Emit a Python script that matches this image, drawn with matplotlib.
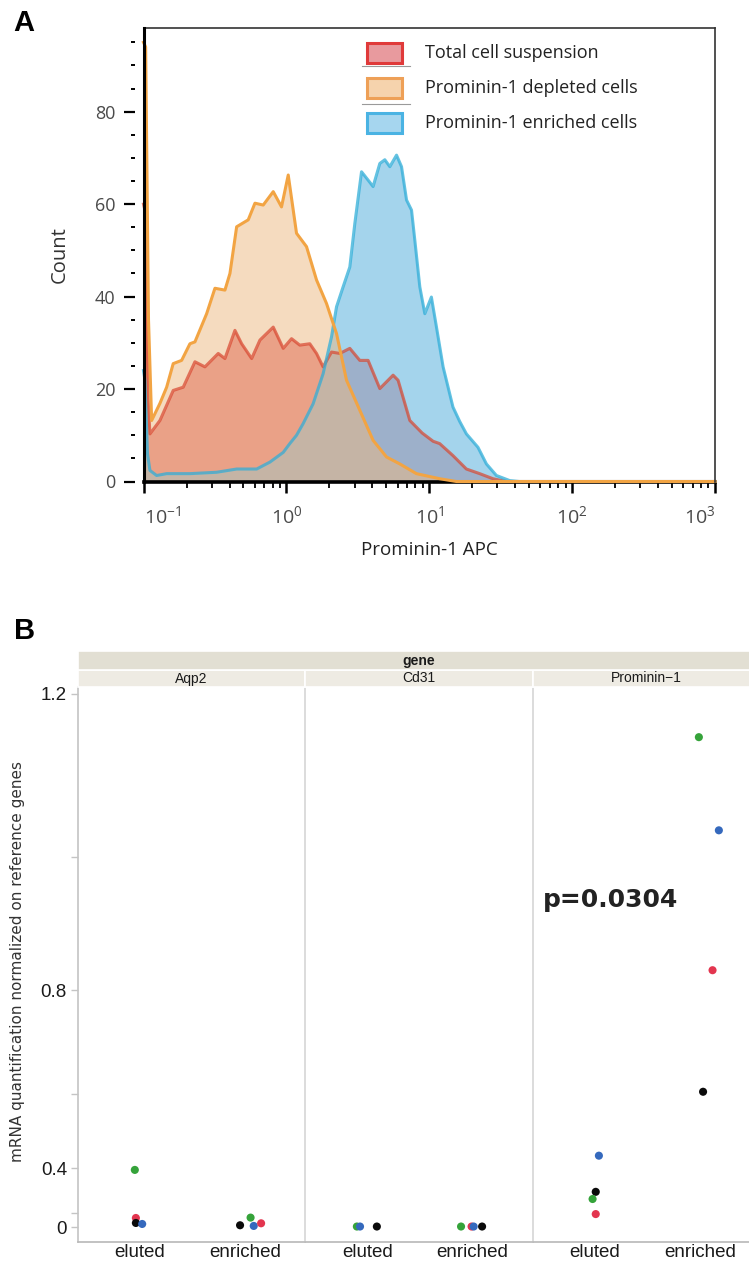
import numpy as np
import matplotlib
matplotlib.use("Agg")
import matplotlib.pyplot as plt
from matplotlib.patches import Rectangle
from matplotlib.lines import Line2D
from matplotlib.ticker import FixedLocator

plt.rcParams['font.family'] = ['Open Sans', 'DejaVu Sans']
plt.rcParams['mathtext.default'] = 'regular'

# ---------------- Panel A : histogram (log10 of Prominin-1 APC, count)
total_lx = [-1.0, -0.985, -0.968, -0.955, -0.885, -0.792, -0.722, -0.64, -0.57, -0.477,
            -0.43, -0.36, -0.313, -0.243, -0.185, -0.092, -0.022, 0.036, 0.094, 0.164,
            0.211, 0.257, 0.316, 0.374, 0.444, 0.514, 0.572, 0.654, 0.747, 0.782,
            0.864, 0.95, 1.027, 1.073, 1.166, 1.26, 1.353, 1.446, 1.54, 3.0]
total_ct = [60, 58, 18, 10.3, 13.2, 19.7, 20.4, 25.9, 24.8, 27.7,
            26.6, 32.7, 29.8, 26.6, 30.6, 33.4, 28.8, 30.9, 29.5, 29.8,
            27.7, 24.8, 28.0, 27.7, 28.8, 26.2, 26.2, 20.1, 23.0, 21.9,
            13.2, 10.5, 8.7, 8.2, 5.6, 2.7, 1.7, 0.6, 0, 0]

depl_lx = [-1.0, -0.985, -0.965, -0.943, -0.885, -0.838, -0.792, -0.733, -0.675, -0.64,
           -0.558, -0.5, -0.43, -0.395, -0.348, -0.267, -0.22, -0.162, -0.092, -0.034,
           0.013, 0.071, 0.141, 0.211, 0.281, 0.351, 0.421, 0.514, 0.607, 0.701,
           0.794, 0.91, 1.073, 1.19, 3.0]
depl_ct = [95, 94, 35, 13.2, 16.9, 20.4, 25.5, 26.2, 29.8, 30.2,
           36.3, 41.8, 41.4, 45.0, 55.1, 56.6, 60.2, 59.8, 62.7, 59.4,
           66.3, 53.7, 50.8, 43.6, 38.5, 32.0, 21.9, 15.4, 8.9, 5.3,
           3.8, 1.7, 0.6, 0, 0]

enr_lx = [-1.0, -0.99, -0.972, -0.955, -0.908, -0.838, -0.675, -0.488, -0.348, -0.208,
          -0.115, -0.022, 0.024, 0.071, 0.117, 0.187, 0.257, 0.316, 0.351, 0.397,
          0.444, 0.479, 0.526, 0.572, 0.607, 0.654, 0.689, 0.724, 0.771, 0.806,
          0.841, 0.876, 0.899, 0.934, 0.969, 1.015, 1.05, 1.097, 1.143, 1.166,
          1.213, 1.26, 1.341, 1.40, 1.47, 1.563, 1.63, 3.0]
enr_ct = [24, 22, 6, 2.4, 1.3, 1.7, 1.7, 2.0, 2.7, 2.7,
          4.2, 6.3, 8.2, 10.0, 12.5, 16.8, 23.3, 31.3, 37.8, 42.1,
          46.4, 55.8, 67.0, 65.2, 63.8, 68.8, 69.6, 68.1, 70.6, 68.1,
          60.9, 58.7, 52.2, 42.1, 36.3, 39.9, 33.5, 24.8, 19.0, 16.1,
          13.0, 10.3, 7.4, 3.8, 1.3, 0.2, 0, 0]

legend_labels = ["Total cell suspension", "Prominin-1 depleted cells", "Prominin-1 enriched cells"]

# ---------------- Panel B : mRNA dots
genes = ["Aqp2", "Cd31", "Prominin\u22121"]
groups = ["eluted", "enriched"]
dot_colors = {"green": "#35a33a", "red": "#e3354f", "blue": "#3569bd", "black": "#0a0a0a"}
# per gene -> per group -> list of (colour, value, jitter)
mrna = {
    "Aqp2": {"eluted": [("red", 0.16, -0.04), ("black", 0.11, -0.04), ("blue", 0.097, 0.02), ("green", 0.394, -0.05)],
             "enriched": [("black", 0.077, -0.05), ("blue", 0.064, 0.08), ("red", 0.106, 0.15), ("green", 0.163, 0.05)]},
    "Cd31": {"eluted": [("black", 0.05, 0.09), ("green", 0.05, -0.10), ("blue", 0.05, -0.07)],
             "enriched": [("green", 0.05, -0.11), ("red", 0.05, -0.01), ("blue", 0.05, 0.01), ("black", 0.05, 0.09)]},
    "Prominin\u22121": {"eluted": [("blue", 0.44, 0.04), ("black", 0.31, 0.01), ("green", 0.277, -0.02), ("red", 0.19, 0.01)],
                        "enriched": [("green", 1.15, -0.01), ("blue", 1.035, 0.18), ("red", 0.833, 0.12), ("black", 0.605, 0.03)]},
}
p_text = "p=0.0304"

W, H = 749, 1262
fig = plt.figure(figsize=(W / 100, H / 100), dpi=100)


def box(l, t, r, b):
    return [l / W, 1 - b / H, (r - l) / W, (b - t) / H]


# =============== Panel A
axA = fig.add_axes(box(143.5, 28, 715, 481.5))
axA.set_xscale('log')

# (x, counts, fill colour, fill alpha, line colour, line alpha)
series = [
    (total_lx, total_ct, "#da3a44", 0.6, "#d8452e", 0.7),
    (enr_lx, enr_ct, "#7ec2e4", 0.7, "#31aed8", 0.75),
    (depl_lx, depl_ct, "#edb981", 0.5, "#f2a443", 1.0),
]
for i, (lx, ct, fc, fa, lc, la) in enumerate(series):
    x = 10 ** np.array(lx)
    axA.fill_between(x, ct, 0, color=fc, alpha=fa, lw=0, zorder=1 + i * 0.1)
for i, (lx, ct, fc, fa, lc, la) in enumerate(series):
    x = 10 ** np.array(lx)
    axA.plot(x, ct, color=lc, alpha=la, lw=2.2, zorder=2 + i * 0.1, clip_on=False,
             solid_joinstyle='round')

axA.set_xlim(0.1, 1000)
axA.set_ylim(0, 98.1)

axA.spines['left'].set_position(('outward', 6))
axA.spines['left'].set_color('none')
axA.add_line(Line2D([0, 0], [0, 1], transform=axA.transAxes, color='black', lw=2.2,
                    clip_on=False, zorder=4))
axA.spines['bottom'].set_linewidth(2.6)
axA.spines['bottom'].set_zorder(1.5)
for s in ['top', 'right']:
    axA.spines[s].set_linewidth(1.2)
    axA.spines[s].set_color('#333333')

axA.set_yticks([0, 20, 40, 60, 80])
axA.set_yticklabels(['0', '20', '40', '60', '80'])
axA.yaxis.set_minor_locator(FixedLocator([v for v in range(5, 100, 5) if v % 20]))
axA.tick_params(axis='y', which='major', length=8, width=1.6, pad=6, labelsize=13,
                labelcolor='#4a4a4a', color='black')
axA.tick_params(axis='y', which='minor', length=3, width=1.4, color='black')

axA.set_xticks([0.1, 1, 10, 100, 1000])
axA.set_xticklabels(['$10^{-1}$', '$10^{0}$', '$10^{1}$', '$10^{2}$', '$10^{3}$'])
axA.tick_params(axis='x', which='major', length=8, width=1.8, pad=9, labelsize=14,
                labelcolor='#4a4a4a', color='black')
axA.tick_params(axis='x', which='minor', length=4, width=1.3, color='black')
xl = axA.get_xticklabels()
xl[0].set_ha('left')
xl[-1].set_ha('right')

axA.set_xlabel("Prominin-1 APC", fontsize=13.5, color='#222222', labelpad=10)
axA.set_ylabel("Count", fontsize=14.5, color='#333333', labelpad=18)

# legend drawn by hand (patches with separators)
leg_face = ["#e89a9e", "#f6d3ad", "#a6d6ef"]
leg_edge = ["#e03a3a", "#eea057", "#4ab3e3"]
leg_y = [53, 88, 123]
for lab, fcol, ecol, yc in zip(legend_labels, leg_face, leg_edge, leg_y):
    fig.add_artist(Rectangle((367 / W, 1 - (yc + 10) / H), 35 / W, 20 / H,
                             transform=fig.transFigure, facecolor=fcol, edgecolor=ecol, lw=2.2))
    fig.text(425 / W, 1 - yc / H, lab, fontsize=13, color='#222222', va='center', ha='left')
for ys in [65.5, 104]:
    fig.add_artist(Line2D([362 / W, 410 / W], [1 - ys / H, 1 - ys / H], transform=fig.transFigure,
                          color='#9a9a9a', lw=0.8))

fig.text(24 / W, 1 - 23 / H, "A", fontsize=21, fontweight='bold', va='center', ha='center',
         family=['Liberation Sans', 'DejaVu Sans'])
fig.text(25 / W, 1 - 631 / H, "B", fontsize=21, fontweight='bold', va='center', ha='center',
         family=['Liberation Sans', 'DejaVu Sans'])

# =============== Panel B
narrow = ['Liberation Sans', 'DejaVu Sans']


def fwd(y):
    y = np.asarray(y, dtype=float)
    return np.sign(y) * y ** 2


def inv(y):
    y = np.asarray(y, dtype=float)
    return np.sign(y) * np.sqrt(np.abs(y))


facet_w = 227.3
top_b, bot_b = 687, 1241.7
x0 = 78
for gi, gene in enumerate(genes):
    l = x0 + gi * facet_w
    ax = fig.add_axes(box(l, top_b, l + facet_w, bot_b))
    ax.set_yscale('function', functions=(fwd, inv))
    for k, grp in enumerate(groups):
        for col, val, jit in mrna[gene][grp]:
            ax.scatter(k + jit, val, s=34, color=dot_colors[col], edgecolors='none', zorder=3,
                       clip_on=False)
    ax.set_xlim(-0.59, 1.57)
    ax.set_ylim(-0.196, 1.2074)
    for s in ['top', 'right']:
        ax.spines[s].set_visible(False)
    ax.spines['left'].set_color('#d6d6d6' if gi else '#c4c4c4')
    ax.spines['left'].set_linewidth(1.2)
    ax.spines['bottom'].set_color('#b8b8b8')
    ax.spines['bottom'].set_linewidth(1.2)
    ax.set_xticks([0, 1])
    ax.set_xticklabels(groups, family=narrow, fontsize=13.5, color='#1a1a1a')
    ax.tick_params(axis='x', length=0, pad=2)
    if gi == 0:
        ax.set_yticks([0, 0.4, 0.8, 1.2])
        ax.set_yticklabels(['0', '0.4', '0.8', '1.2'], family=narrow, fontsize=13.5,
                           color='#1a1a1a')
        ax.yaxis.set_minor_locator(FixedLocator([0.2, 0.6, 1.0]))
        ax.tick_params(axis='y', which='both', length=5, width=1, color='#c4c4c4', pad=3)
    else:
        ax.set_yticks([])
        ax.yaxis.set_minor_locator(FixedLocator([]))
    # facet strip
    fig.add_artist(Rectangle((l / W, 1 - 687 / H), facet_w / W, 17 / H, transform=fig.transFigure,
                             facecolor='#eeebe3', edgecolor='white', lw=1.2))
    fig.text((l + facet_w / 2) / W, 1 - 678.5 / H, gene, family=narrow, fontsize=10,
             color='#1a1a1a', ha='center', va='center')

fig.add_artist(Rectangle((x0 / W, 1 - 670 / H), 3 * facet_w / W, 19 / H, transform=fig.transFigure,
                         facecolor='#e2dfd3', edgecolor='white', lw=1.2))
fig.text((x0 + 1.5 * facet_w) / W, 1 - 660.5 / H, "gene", family=narrow, fontsize=10,
         fontweight='bold', color='#1a1a1a', ha='center', va='center')

fig.text(18 / W, 1 - 962 / H, "mRNA quantification normalized on reference genes", rotation=90,
         fontsize=11, color='#333333', ha='center', va='center', family=['DejaVu Sans'])
fig.text(543 / W, 1 - 900 / H, p_text, fontsize=18, fontweight='bold', color='#222222',
         ha='left', va='center', family=['DejaVu Sans'])

fig.savefig("out.png", dpi=100)
